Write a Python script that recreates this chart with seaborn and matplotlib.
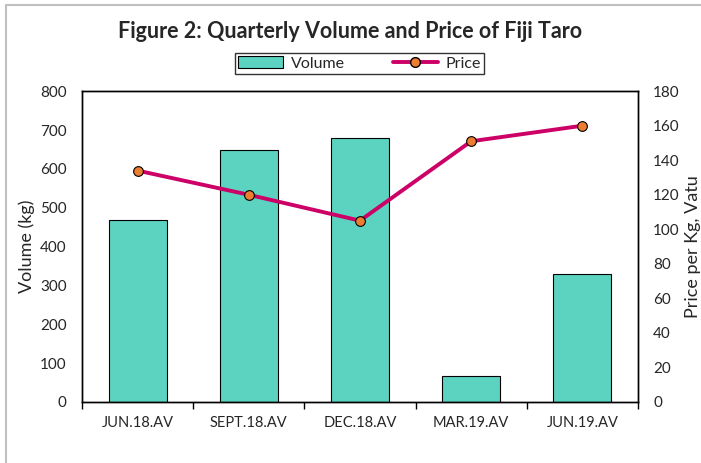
import numpy as np
import pandas as pd
import matplotlib.pyplot as plt
import matplotlib.lines as mlines
import matplotlib.patches as mpatches
import seaborn as sns

# Dados do gráfico
trimestres = ['JUN.18.AV', 'SEPT.18.AV', 'DEC.18.AV', 'MAR.19.AV', 'JUN.19.AV']
volume_kg = [468, 648, 679, 67, 329]
preco_vatu = [134, 120, 105, 151, 160]

cor_barra = '#5BD3C0'
cor_linha = '#CC0066'
cor_ponto = '#ED7D31'

sns.set_style('white')
plt.rcParams['font.family'] = ['Lato', 'DejaVu Sans']

df = pd.DataFrame({'trimestre': trimestres, 'volume': volume_kg, 'preco': preco_vatu})

fig = plt.figure(figsize=(7.01, 4.63), dpi=100)
ax = fig.add_axes([0.117, 0.132, 0.793, 0.671])

sns.barplot(data=df, x='trimestre', y='volume', color=cor_barra, width=0.52,
            edgecolor='black', linewidth=0.8, saturation=1, ax=ax)
ax.set_ylim(0, 800)
ax.set_yticks(range(0, 801, 100))
ax.set_xlim(-0.5, len(trimestres) - 0.5)
ax.set_xlabel('')
ax.set_ylabel('Volume (kg)', fontsize=13)

ax2 = ax.twinx()
sns.lineplot(data=df, x='trimestre', y='preco', color=cor_linha, linewidth=2.8,
             marker='o', markersize=7, markerfacecolor=cor_ponto,
             markeredgecolor='black', markeredgewidth=0.8, sort=False, ax=ax2)
ax2.set_ylim(0, 180)
ax2.set_yticks(range(0, 181, 20))
ax2.set_ylabel('Price per Kg, Vatu', fontsize=13)
ax2.set_xlim(-0.5, len(trimestres) - 0.5)

# Eixo x: rótulos centrados, marcas entre categorias
ax.set_xticks(np.arange(len(trimestres)))
ax.set_xticklabels(trimestres)
ax.set_xticks(np.arange(-0.5, len(trimestres)), minor=True)
ax.tick_params(axis='x', which='major', length=0, pad=10, labelsize=10.5)
ax.tick_params(axis='x', which='minor', length=5, width=1, direction='out', color='black', bottom=True)
ax.tick_params(axis='y', length=0, pad=11, labelsize=11)
ax2.tick_params(axis='y', length=0, pad=11, labelsize=11)

for a in (ax, ax2):
    for s in a.spines.values():
        s.set_color('black')
        s.set_linewidth(1)

# Título e legenda
fig.text(0.5, 0.933, 'Figure 2: Quarterly Volume and Price of Fiji Taro',
         ha='center', va='center', fontsize=15.5, fontweight='bold')
h_vol = mpatches.Patch(facecolor=cor_barra, edgecolor='black', linewidth=0.8, label='Volume')
h_preco = mlines.Line2D([], [], color=cor_linha, linewidth=2.8, marker='o', markersize=7,
                        markerfacecolor=cor_ponto, markeredgecolor='black', label='Price')
leg = fig.legend(handles=[h_vol, h_preco], loc='center', bbox_to_anchor=(0.513, 0.863),
                 ncol=2, fontsize=11.5, frameon=True, fancybox=False, edgecolor='black',
                 handlelength=2.8, handleheight=0.7, borderpad=0.2, columnspacing=3.0,
                 handletextpad=0.5)
leg.get_frame().set_linewidth(1)

# Moldura cinza do gráfico (esquerda e topo)
fig.add_artist(mlines.Line2D([0.009, 0.009], [0, 0.989], color='#C0C0C0', linewidth=1.5))
fig.add_artist(mlines.Line2D([0.009, 1], [0.989, 0.989], color='#C0C0C0', linewidth=1.5))

fig.savefig('out.png', dpi=100)
